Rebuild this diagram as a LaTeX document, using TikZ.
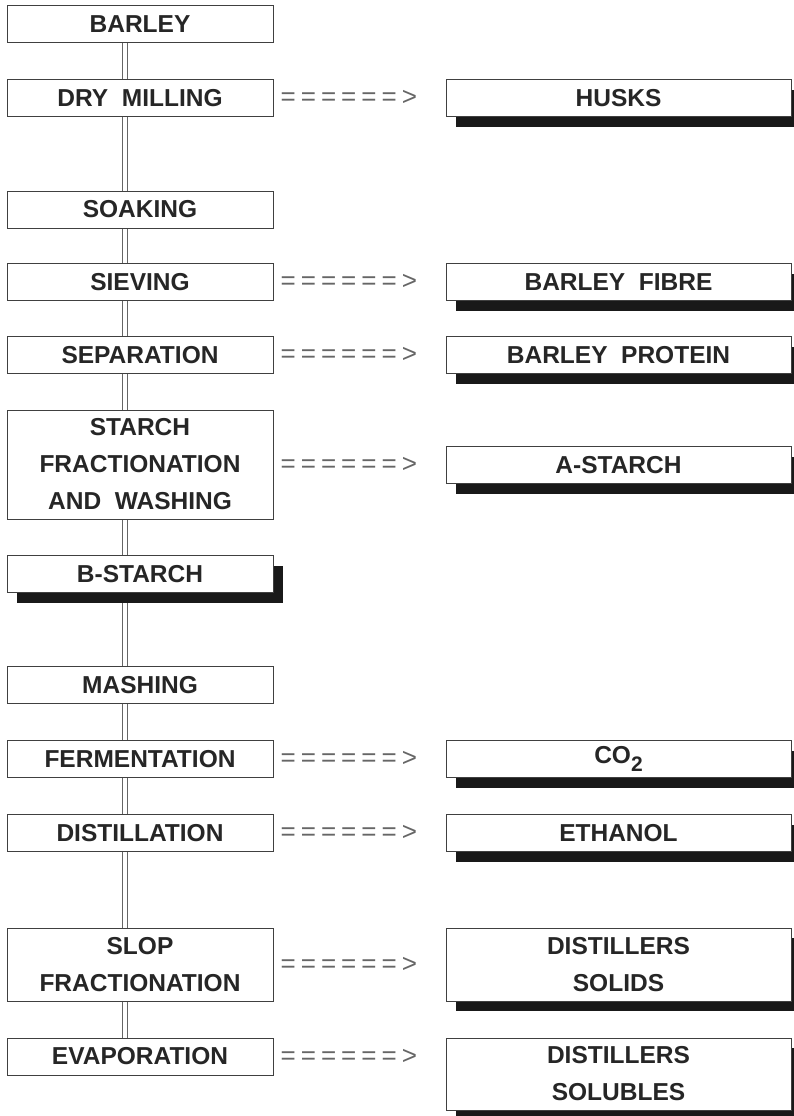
\documentclass[tikz,border=0pt]{standalone}
\usepackage{fontspec}
\setmainfont{Liberation Sans}
\usetikzlibrary{shadows,backgrounds}
\newlength{\stepwidth}
\setlength{\stepwidth}{266pt}
\newlength{\productwidth}
\setlength{\productwidth}{345pt}
\newlength{\rowheight}
\setlength{\rowheight}{37pt}
\newcommand\yields
{
  =\kern5pt=\kern5pt=\kern5pt=\kern5pt=\kern5pt=\kern5pt>%
}
\newcommand\cotwo{CO\raisebox{-8pt}{\fontsize{21}{21}\selectfont 2}}

\begin{document}
\begin{tikzpicture}[x=1pt,y=-1pt]
  \tikzstyle{stepnode}=[
       draw=black!75,
       line width=1pt,
       fill=white,
       text=black!85,
       minimum width=\stepwidth,
       minimum height=\rowheight,
       inner sep=0pt,
       align=center,
       font=\fontsize{24.5}{37}\selectfont\bfseries]
  \tikzstyle{productnode}=[
       stepnode,
       minimum width=\productwidth,
       drop shadow={shadow xshift=10pt, shadow yshift=-10pt, fill=black!90, opacity=1}]
  \tikzstyle{arrownode}=[
       anchor=west,
       inner sep=0pt,
       text=black!60,
       font=\fontsize{26}{26}\selectfont]
  \tikzstyle{mainline}=[
       draw=black!60,
       line width=1pt,
       double=white,
       double distance=4pt]
  \useasboundingbox (0,0) rectangle (793,1116);

  % process steps
  \node[stepnode] (barley) at (140,24.5) {BARLEY};
  \node[stepnode] (milling) at (140,98) {DRY\ \ MILLING};
  \node[stepnode] (soaking) at (140,209.5) {SOAKING};
  \node[stepnode] (sieving) at (140,282) {SIEVING};
  \node[stepnode] (separation) at (140,355) {SEPARATION};
  \node[stepnode, minimum height=109pt] (starch) at (140,464.5)
       {STARCH\\FRACTIONATION\\AND\ \ WASHING};
  \node[productnode, minimum width=\stepwidth] (bstarch) at (140,574) {B-STARCH};
  \node[stepnode] (mashing) at (140,685) {MASHING};
  \node[stepnode] (fermentation) at (140,759) {FERMENTATION};
  \node[stepnode] (distillation) at (140,833) {DISTILLATION};
  \node[stepnode, minimum height=73pt] (slop) at (140,964.5)
       {SLOP\\FRACTIONATION};
  \node[stepnode] (evaporation) at (140,1056.5) {EVAPORATION};

  % side products
  \node[productnode] (husks) at (618.5,98) {HUSKS};
  \node[productnode] (fibre) at (618.5,282) {BARLEY\ \ FIBRE};
  \node[productnode] (protein) at (618.5,355) {BARLEY\ \ PROTEIN};
  \node[productnode] (astarch) at (618.5,465) {A-STARCH};
  \node[productnode] (co2) at (618.5,759) {\cotwo};
  \node[productnode] (ethanol) at (618.5,833) {ETHANOL};
  \node[productnode, minimum height=73pt] (solids) at (618.5,964.5)
       {DISTILLERS\\SOLIDS};
  \node[productnode, minimum height=72pt] (solubles) at (618.5,1074)
       {DISTILLERS\\SOLUBLES};

  % ======> marks
  \foreach \s in {milling,sieving,separation,starch,fermentation,distillation,slop,evaporation}
    \node[arrownode] (\s-out) at ([xshift=7pt]\s.east) {\yields};

  % main line, behind the boxes
  \begin{scope}[on background layer]
  \foreach \a/\b in {barley/milling,milling/soaking,soaking/sieving,sieving/separation,
                     separation/starch,starch/bstarch,bstarch/mashing,mashing/fermentation,
                     fermentation/distillation,distillation/slop,slop/evaporation}
    \draw[mainline] ([xshift=-15pt]\a.south) -- ([xshift=-15pt]\b.north);
  \end{scope}
\end{tikzpicture}
\end{document}
